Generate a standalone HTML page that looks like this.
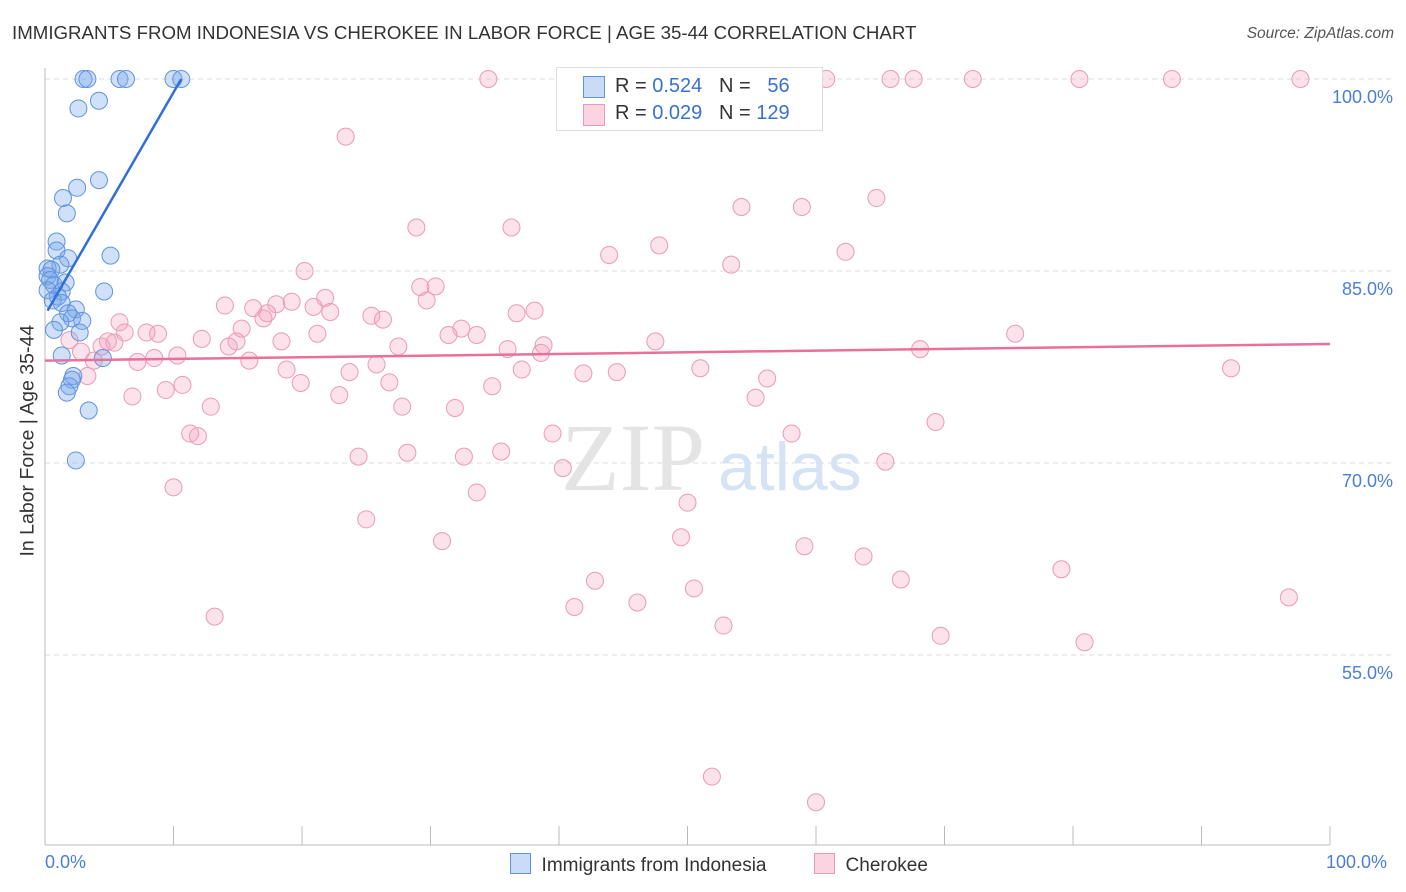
<!DOCTYPE html>
<html><head><meta charset="utf-8"><style>
body{margin:0;background:#fff;font-family:"Liberation Sans",sans-serif;}
#wrap{position:relative;width:1406px;height:892px;overflow:hidden;}
.t{position:absolute;white-space:nowrap;}
</style></head><body>
<div id="wrap">
<div class="t" style="left:12px;top:22px;font-size:18.7px;color:#333;">IMMIGRANTS FROM INDONESIA VS CHEROKEE IN LABOR FORCE | AGE 35-44 CORRELATION CHART</div>
<div class="t" style="right:12px;top:25px;font-size:15.5px;color:#555;font-style:italic;">Source: ZipAtlas.com</div>
<svg id="svg" width="1406" height="892" style="position:absolute;left:0;top:0"></svg>
</div>
<script>
const blueX=[3.0,3.3,5.8,6.3,10.0,10.6,2.6,4.2,4.2,2.5,1.4,1.7,0.9,0.9,5.1,1.8,1.2,0.2,0.5,0.2,0.4,0.7,1.6,1.3,1.0,4.6,0.2,0.6,1.3,2.4,1.8,2.1,2.9,1.2,0.7,2.7,4.5,1.3,2.2,2.1,1.9,1.7,3.4,2.4];
const blueY=[100,100,100,100,100,100,97.7,98.3,92.1,91.5,90.7,89.5,87.3,86.6,86.2,86.0,85.5,85.2,85.1,84.6,84.3,83.9,84.1,83.4,83.0,83.4,83.5,82.7,82.5,82.0,81.7,81.3,81.1,81.0,80.4,80.2,78.2,78.4,76.8,76.5,76.0,75.5,74.1,70.2];
const pinkX=[34.5,44.0,52.2,60.8,65.8,67.6,72.2,80.5,87.7,97.7,23.4,54.2,58.9,64.7,28.9,36.3,43.9,47.8,62.3,53.4,20.2,14.0,16.2,18.0,19.2,21.8,20.9,22.2,29.2,30.4,29.7,25.4,26.3,17.0,17.3,5.8,6.2,7.9,8.8,12.2,15.3,14.9,14.3,18.4,21.2,27.5,32.4,31.4,33.6,36.7,38.1,36.0,38.8,38.6,47.5,75.5,68.1,1.9,2.8,4.4,4.9,5.4,3.8,3.3,7.2,8.5,10.3,15.9,18.8,23.7,25.8,26.8,19.9,37.1,41.9,44.5,51.0,56.2,92.3,6.8,9.4,10.7,12.9,22.9,27.8,31.9,34.8,55.3,69.3,11.3,11.9,39.5,58.1,24.4,28.2,32.6,35.5,40.3,65.4,10.0,33.6,50.0,25.0,30.9,49.5,59.1,63.7,42.8,50.5,41.2,46.1,66.6,79.1,96.8,13.2,52.8,69.7,80.9,51.9,60.0];
const pinkY=[100,100,100,100,100,100,100,100,100,100,95.5,90.0,90.0,90.7,88.4,88.4,86.25,87.0,86.5,85.5,85.0,82.3,82.1,82.4,82.6,82.9,82.2,81.8,83.75,83.8,82.7,81.5,81.2,81.3,81.7,81.0,80.2,80.2,80.1,79.7,80.5,79.5,79.1,79.5,80.1,79.1,80.5,80.0,80.0,81.7,81.9,78.9,79.2,78.6,79.5,80.1,78.9,79.6,78.7,79.1,79.5,79.4,78.0,76.8,77.9,78.2,78.4,78.0,77.3,77.1,77.7,76.3,76.25,77.3,77.0,77.1,77.4,76.6,77.4,75.2,75.7,76.1,74.4,75.3,74.4,74.3,76.0,75.1,73.2,72.3,72.1,72.3,72.3,70.5,70.8,70.5,70.9,69.6,70.1,68.1,67.7,66.9,65.6,63.9,64.2,63.5,62.7,60.8,60.2,58.75,59.1,60.9,61.7,59.5,58.0,57.3,56.5,56.0,45.5,43.5];
const blueTrendX=[0.2,10.6], blueTrendY=[81.9,100];
const pinkTrendX=[0,100], pinkTrendY=[78.0,79.3];
const yTicks=[100,85,70,55];
const yTickLabels=["100.0%","85.0%","70.0%","55.0%"];

const svg=document.getElementById('svg');
const NS='http://www.w3.org/2000/svg';
const sx=v=>45+v*12.85;
const sy=v=>79+(100-v)*12.8;
function mk(tag,attrs){const e=document.createElementNS(NS,tag);for(const k in attrs)e.setAttribute(k,attrs[k]);svg.appendChild(e);return e;}

yTicks.forEach((t,i)=>{
  const g=mk('line',{x1:45,x2:1392,y1:sy(t),y2:sy(t),stroke:'#ddd','stroke-dasharray':'5,4'});
  
  
  const l=mk('text',{x:1393,y:sy(t)+24,'text-anchor':'end','font-size':18,fill:'#4a7fd4','font-family':'Liberation Sans, sans-serif'});
  l.textContent=yTickLabels[i];
  
  
});
const ax=mk('line',{x1:45,x2:45,y1:68,y2:845,stroke:'#bbb'});


const bx=mk('line',{x1:45,x2:1330,y1:845,y2:845,stroke:'#bbb'});


for(let i=0;i<=10;i++){
  const tk=mk('line',{x1:sx(i*10),x2:sx(i*10),y1:826,y2:845,stroke:'#bbb'});
  
  
}
const w1=mk('text',{x:633,y:490,'text-anchor':'middle','font-size':96,fill:'#e4e4e4','font-family':'Liberation Serif, serif'});
w1.textContent='ZIP';


const w2=mk('text',{x:718,y:490,'font-size':68,fill:'#d6e3f5','font-family':'Liberation Sans, sans-serif'});
w2.textContent='atlas';



pinkX.forEach((x,i)=>{
  const c=mk('circle',{cx:sx(x),cy:sy(pinkY[i]),r:8.5,fill:'rgba(244,160,188,0.3)',stroke:'#eb9ab6','stroke-width':1});
  
  
});
blueX.forEach((x,i)=>{
  const c=mk('circle',{cx:sx(x),cy:sy(blueY[i]),r:8.5,fill:'rgba(120,165,235,0.35)',stroke:'#5f93df','stroke-width':1});
  
  
});
const pt=mk('line',{x1:sx(pinkTrendX[0]),y1:sy(pinkTrendY[0]),x2:sx(pinkTrendX[1]),y2:sy(pinkTrendY[1]),stroke:'#e8709a','stroke-width':2.5});


const bt=mk('line',{x1:sx(blueTrendX[0]),y1:sy(blueTrendY[0]),x2:sx(blueTrendX[1]),y2:sy(blueTrendY[1]),stroke:'#2f6fd6','stroke-width':2.5});


</script>
<div class="t" style="left:-72px;top:445px;transform:rotate(-90deg);font-size:19.5px;color:#333;width:200px;text-align:center;">In Labor Force | Age 35-44</div>
<div class="t" style="left:45px;top:852px;font-size:18px;color:#4a7fd4;">0.0%</div>
<div class="t" style="left:1326px;top:852px;font-size:18px;color:#4a7fd4;">100.0%</div>
<div style="position:absolute;left:556px;top:67px;width:265px;height:62px;border:1px solid #ddd;background:#fff;font-size:20px;color:#333;">
 <div style="position:absolute;left:26px;top:8px;width:20px;height:20px;background:rgba(120,165,235,0.4);border:1px solid #5f93df;"></div>
 <div class="t" style="left:58px;top:7px;">R = <span style="color:#3a70d0">0.524</span>&nbsp;&nbsp;&nbsp;N = &nbsp;&nbsp;<span style="color:#3a70d0">56</span></div>
 <div style="position:absolute;left:26px;top:36px;width:20px;height:20px;background:rgba(244,160,188,0.45);border:1px solid #eb9ab6;"></div>
 <div class="t" style="left:58px;top:34px;">R = <span style="color:#3a70d0">0.029</span>&nbsp;&nbsp;&nbsp;N = <span style="color:#3a70d0">129</span></div>
</div>
<div style="position:absolute;left:510px;top:853px;font-size:19px;color:#333;">
 <span style="display:inline-block;width:19px;height:19px;background:rgba(120,165,235,0.4);border:1px solid #5f93df;vertical-align:-3px;"></span>&nbsp; Immigrants from Indonesia</div>
<div style="position:absolute;left:814px;top:853px;font-size:19px;color:#333;">
 <span style="display:inline-block;width:19px;height:19px;background:rgba(244,160,188,0.45);border:1px solid #eb9ab6;vertical-align:-3px;"></span>&nbsp; Cherokee</div>
</body></html>
